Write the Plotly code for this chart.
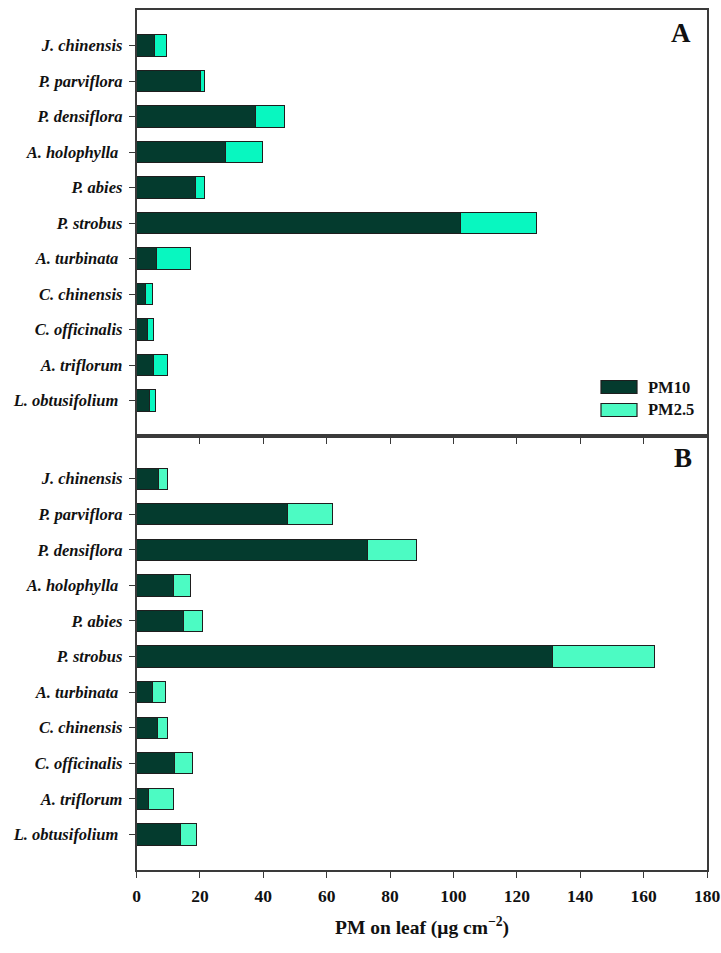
import plotly.graph_objects as go

# Species, listed top to bottom
species = ["J. chinensis", "P. parviflora", "P. densiflora", "A. holophylla",
           "P. abies", "P. strobus", "A. turbinata", "C. chinensis",
           "C. officinalis", "A. triflorum", "L. obtusifolium"]
species_labels = ["J. chinensis", "P. parviflora", "P. densiflora", "A. holophylla\u00a0",
                  "P. abies", "P. strobus", "A. turbinata\u00a0", "C. chinensis",
                  "C. officinalis", "A. triflorum", "L. obtusifolium\u00a0"]

# Panel A: PM on leaf (µg cm-2)
a_pm10 = [5.8, 20.3, 37.7, 28.1, 18.5, 102.1, 6.2, 2.7, 3.5, 5.5, 4.0]
a_pm25 = [3.7, 1.0, 8.9, 11.5, 3.1, 24.0, 10.8, 2.3, 1.8, 4.4, 2.1]

# Panel B: PM on leaf (µg cm-2)
b_pm10 = [7.0, 47.6, 72.9, 11.7, 14.9, 131.3, 5.2, 6.5, 11.9, 3.8, 13.8]
b_pm25 = [2.9, 14.1, 15.5, 5.4, 5.9, 32.0, 4.0, 3.3, 5.7, 7.8, 5.0]

x_ticks = [0, 20, 40, 60, 80, 100, 120, 140, 160, 180]

C_PM10 = "#043b2e"
C_PM25_A = "#08f7c0"
C_PM25_B = "#4cfbc3"
EDGE = "#1e1e1e"
SERIF = "Liberation Serif, Times New Roman, serif"

W, H = 721, 953
# plot area in pixels
X0, X1 = 136.5, 707
YA0, YA1 = 10, 436
YB0, YB1 = 436, 870


def px_x(p):
    return p / W


def px_y(p):
    return 1 - p / H


fig = go.Figure()


def add_panel(pm10, pm25, c25, xa, ya):
    fig.add_trace(go.Bar(y=species, x=pm10, orientation="h", name="PM10",
                         marker=dict(color=C_PM10, line=dict(color=EDGE, width=1)),
                         width=0.6, xaxis=xa, yaxis=ya, showlegend=False))
    fig.add_trace(go.Bar(y=species, x=pm25, orientation="h", name="PM2.5",
                         marker=dict(color=c25, line=dict(color=EDGE, width=1)),
                         width=0.6, xaxis=xa, yaxis=ya, showlegend=False))


add_panel(a_pm10, a_pm25, C_PM25_A, "x", "y")
add_panel(b_pm10, b_pm25, C_PM25_B, "x2", "y2")

axis_common = dict(showline=True, linecolor="#3a3a3a", linewidth=1.5, mirror=True,
                   showgrid=False, zeroline=False, ticks="outside", ticklen=6,
                   tickwidth=1.2, tickcolor="#3a3a3a", automargin=False)
xdom = [px_x(X0), px_x(X1)]

yaxis_common = dict(axis_common, type="category", categoryorder="array",
                    categoryarray=species, tickvals=species,
                    ticktext=[f"<b><i>{s}</i></b>" for s in species_labels],
                    ticklabelstandoff=3,
                    tickfont=dict(family=SERIF, size=16.5, color="#111"))

fig.update_layout(
    width=W, height=H, autosize=False,
    margin=dict(l=0, r=0, t=0, b=0, autoexpand=False),
    paper_bgcolor="white", plot_bgcolor="white",
    barmode="stack", bargap=0.4,
    xaxis=dict(axis_common, domain=xdom, range=[0, 180], tickvals=x_ticks,
               showticklabels=False, anchor="y"),
    yaxis=dict(yaxis_common, domain=[px_y(YA1), px_y(YA0)], range=[11, -1], anchor="x"),
    xaxis2=dict(axis_common, domain=xdom, range=[0, 180], tickvals=x_ticks,
                ticktext=[f"<b>{v}</b>" for v in x_ticks], ticklabelstandoff=3,
                tickfont=dict(family=SERIF, size=17.5, color="#111"), anchor="y2"),
    yaxis2=dict(yaxis_common, domain=[px_y(YB1), px_y(YB0)], range=[11, -1.2], anchor="x2"),
    font=dict(family=SERIF),
)


def label(x, y, text, size, xanchor="center"):
    fig.add_annotation(x=px_x(x), y=px_y(y), xref="paper", yref="paper",
                       text=text, showarrow=False, xanchor=xanchor, yanchor="middle",
                       font=dict(family=SERIF, size=size, color="#111"))


# panel letters
label(681, 33, "<b>A</b>", 27)
label(683, 458, "<b>B</b>", 27)

# axis title
label((X0 + X1) / 2, 926, "<b>PM on leaf (μg cm<sup>−2</sup>)</b>", 19.5)

# legend
legend_items = [("PM10", C_PM10, 387), ("PM2.5", C_PM25_B, 410)]
for name, color, yc in legend_items:
    fig.add_shape(type="rect", xref="paper", yref="paper",
                  x0=px_x(601), x1=px_x(637), y0=px_y(yc - 6.5), y1=px_y(yc + 6.5),
                  fillcolor=color, line=dict(color=EDGE, width=1.2))
    label(646, yc, f"<b>{name}</b>", 16.5, xanchor="left")

fig.write_html("out.html")
